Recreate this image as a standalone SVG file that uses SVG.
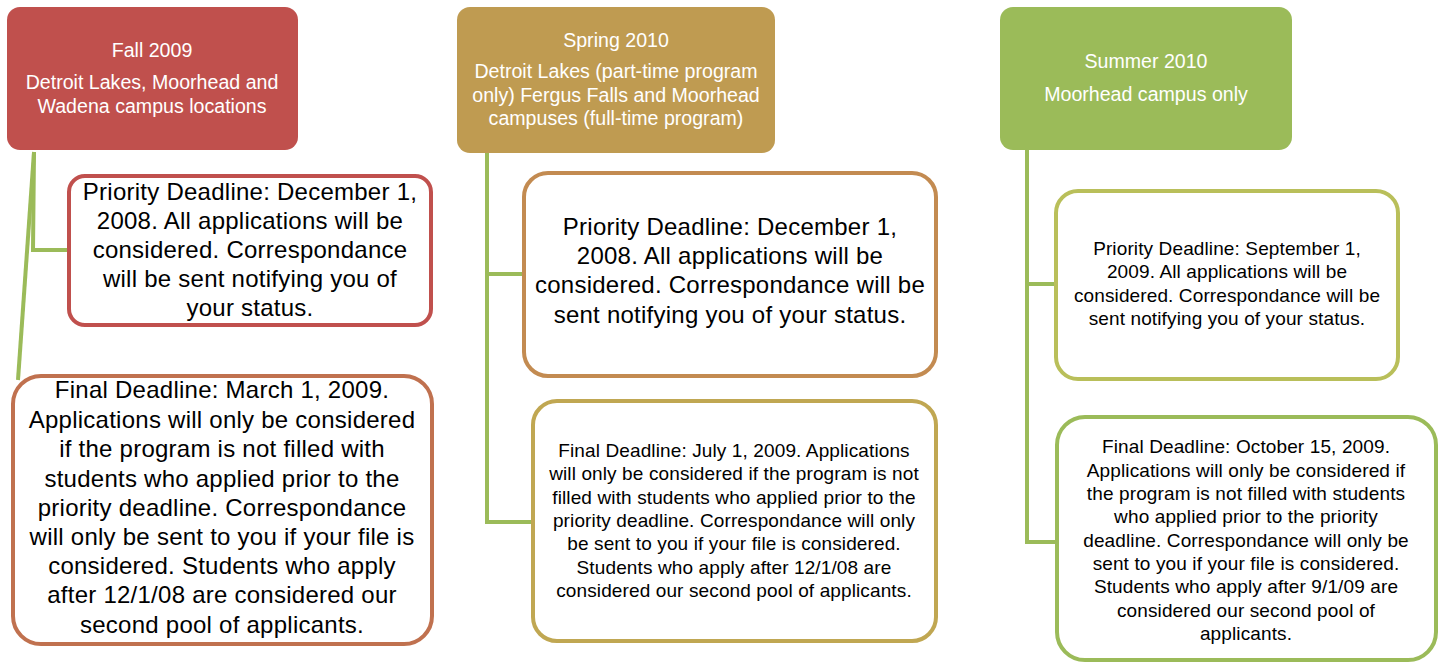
<svg xmlns="http://www.w3.org/2000/svg" width="1444" height="663" viewBox="0 0 1444 663">
<style>
text{font-family:"Liberation Sans",Arial,sans-serif;text-anchor:middle}
.hd{fill:#FFFFFF;font-size:19.6px}
.big{fill:#000;font-size:24px;letter-spacing:0.25px}
.sm{fill:#000;font-size:19px;letter-spacing:0.12px}
.box{fill:#FFFFFF;stroke-width:4}
.conn{fill:none;stroke:#9BBB59;stroke-width:4;stroke-linejoin:miter}
</style>
<rect width="1444" height="663" fill="#FFFFFF"/>
<g id="connectors">
<path class="conn" d="M34,152 L33,250 L70,250"/>
<path class="conn" d="M34,152 L18,380"/>
<path class="conn" d="M487,153 L487,522 L534,522"/>
<path class="conn" d="M487,274 L525,274"/>
<path class="conn" d="M1027,150 L1027,542 L1057,542"/>
<path class="conn" d="M1027,284 L1057,284"/>
</g>
<g id="fall">
<rect x="7" y="7" width="291" height="143" rx="13" fill="#C0504D"/>
<text class="hd" x="152" y="57">Fall 2009</text>
<text class="hd" x="152" y="89">Detroit Lakes, Moorhead and</text>
<text class="hd" x="152" y="113">Wadena campus locations</text>
</g>
<g id="fall-priority">
<rect class="box" x="69" y="176" width="362" height="149" rx="16" stroke="#C0504D"/>
<text class="big" x="250" y="200">Priority Deadline: December 1,</text>
<text class="big" x="250" y="229">2008. All applications will be</text>
<text class="big" x="250" y="258">considered. Correspondance</text>
<text class="big" x="250" y="287">will be sent notifying you of</text>
<text class="big" x="250" y="316">your status.</text>
</g>
<g id="fall-final">
<rect class="box" x="13" y="376" width="419" height="268" rx="28" stroke="#C0714F"/>
<text class="big" x="222" y="398">Final Deadline: March 1, 2009.</text>
<text class="big" x="222" y="428">Applications will only be considered</text>
<text class="big" x="222" y="457">if the program is not filled with</text>
<text class="big" x="222" y="487">students who applied prior to the</text>
<text class="big" x="222" y="516">priority deadline. Correspondance</text>
<text class="big" x="222" y="545">will only be sent to you if your file is</text>
<text class="big" x="222" y="574">considered. Students who apply</text>
<text class="big" x="222" y="603">after 12/1/08 are considered our</text>
<text class="big" x="222" y="633">second pool of applicants.</text>
</g>
<g id="spring">
<rect x="457" y="7" width="318" height="146" rx="13" fill="#BF9B51"/>
<text class="hd" x="616" y="47">Spring 2010</text>
<text class="hd" x="616" y="78">Detroit Lakes (part-time program</text>
<text class="hd" x="616" y="102">only) Fergus Falls and Moorhead</text>
<text class="hd" x="616" y="125">campuses (full-time program)</text>
</g>
<g id="spring-priority">
<rect class="box" x="524" y="173" width="412" height="203" rx="24" stroke="#C38B51"/>
<text class="big" x="730" y="235">Priority Deadline: December 1,</text>
<text class="big" x="730" y="264">2008. All applications will be</text>
<text class="big" x="730" y="293">considered. Correspondance will be</text>
<text class="big" x="730" y="323">sent notifying you of your status.</text>
</g>
<g id="spring-final">
<rect class="box" x="533" y="401" width="403" height="240" rx="24" stroke="#C0A752"/>
<text class="sm" x="734" y="457">Final Deadline: July 1, 2009. Applications</text>
<text class="sm" x="734" y="480">will only be considered if the program is not</text>
<text class="sm" x="734" y="504">filled with students who applied prior to the</text>
<text class="sm" x="734" y="527">priority deadline. Correspondance will only</text>
<text class="sm" x="734" y="550">be sent to you if your file is considered.</text>
<text class="sm" x="734" y="574">Students who apply after 12/1/08 are</text>
<text class="sm" x="734" y="597">considered our second pool of applicants.</text>
</g>
<g id="summer">
<rect x="1000" y="7" width="292" height="143" rx="13" fill="#9BBB59"/>
<text class="hd" x="1146" y="68">Summer 2010</text>
<text class="hd" x="1146" y="101">Moorhead campus only</text>
</g>
<g id="summer-priority">
<rect class="box" x="1056" y="191" width="342" height="188" rx="22" stroke="#B9BF5A"/>
<text class="sm" x="1227" y="255">Priority Deadline: September 1,</text>
<text class="sm" x="1227" y="278">2009. All applications will be</text>
<text class="sm" x="1227" y="302">considered. Correspondance will be</text>
<text class="sm" x="1227" y="325">sent notifying you of your status.</text>
</g>
<g id="summer-final">
<rect class="box" x="1057" y="417" width="379" height="243" rx="28" stroke="#9BBB59"/>
<text class="sm" x="1246" y="453">Final Deadline: October 15, 2009.</text>
<text class="sm" x="1246" y="477">Applications will only be considered if</text>
<text class="sm" x="1246" y="500">the program is not filled with students</text>
<text class="sm" x="1246" y="523">who applied prior to the priority</text>
<text class="sm" x="1246" y="547">deadline. Correspondance will only be</text>
<text class="sm" x="1246" y="570">sent to you if your file is considered.</text>
<text class="sm" x="1246" y="593">Students who apply after 9/1/09 are</text>
<text class="sm" x="1246" y="617">considered our second pool of</text>
<text class="sm" x="1246" y="640">applicants.</text>
</g>
</svg>
